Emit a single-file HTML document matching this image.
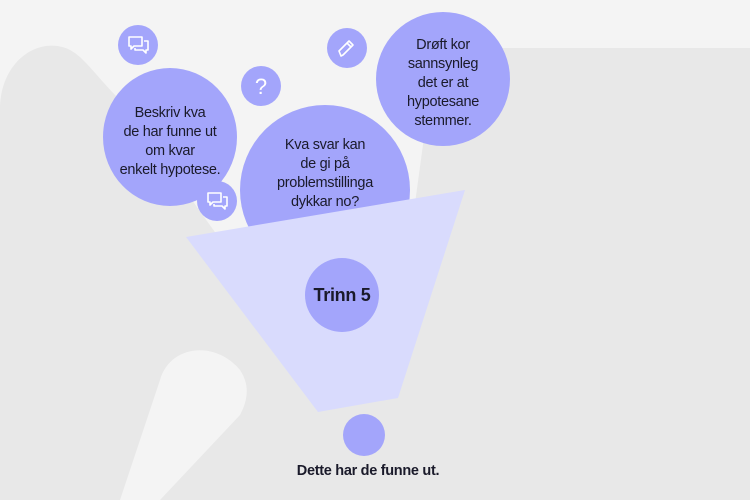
<!DOCTYPE html>
<html><head><meta charset="utf-8"><style>
body{margin:0;width:750px;height:500px;overflow:hidden;background:#f4f4f4;font-family:"Liberation Sans",sans-serif}
svg{position:absolute;left:0;top:0}
.t{position:absolute;text-align:center;font-size:14.5px;line-height:19px;color:#1a1a2a;letter-spacing:-0.3px}
</style></head><body>
<svg width="750" height="500" viewBox="0 0 750 500">
<path d="M0,500 L0,110 C0,60 40,35 70,50 C85,58 95,75 120,100 L235,260 L410,240 L425,130 C432,90 440,48 470,48 L750,48 L750,500 Z" fill="#e8e8e8"/>
<path d="M120,500 L160,380 C170,345 215,340 240,370 C250,385 248,400 240,415 L160,500 Z" fill="#f4f4f4"/>
<g fill="#a3a5fb">
<circle cx="138" cy="45" r="20"/>
<circle cx="347" cy="48" r="20"/>
<circle cx="261" cy="86" r="20"/>
<ellipse cx="170" cy="137" rx="67" ry="69"/>
<circle cx="217" cy="201" r="20"/>
<circle cx="325" cy="190" r="85"/>
<circle cx="443" cy="79" r="67"/>
</g>
<polygon points="186,237 465,190 398,398 318,412" fill="#d9dbfd"/>
<circle cx="342" cy="295" r="37" fill="#a3a5fb"/>
<circle cx="364" cy="435" r="21" fill="#a3a5fb"/>
<g fill="none" stroke="#fff" stroke-width="1.6" stroke-linejoin="round">
<path d="M129,37 h13 v9 h-8 l-3,3 v-3 h-2 z"/>
<path d="M144,41 h4 v9 h-2 v3 l-3,-3 h-8 v-2"/>
<path d="M208,193 h13 v9 h-8 l-3,3 v-3 h-2 z"/>
<path d="M223,197 h4 v9 h-2 v3 l-3,-3 h-8 v-2"/>
<path d="M341,56 l-2,-5 l10,-10 l4,4 l-10,10 z M347,43 l4,4"/>
</g>
<text x="261" y="94" fill="#fff" font-family="Liberation Sans" font-size="22" text-anchor="middle">?</text>
</svg>
<div class="t" style="left:110px;top:104px;width:120px">Beskriv kva<br>de har funne ut<br>om kvar<br>enkelt hypotese.</div>
<div class="t" style="left:265px;top:136px;width:120px">Kva svar kan<br>de gi på<br>problemstillinga<br>dykkar no?</div>
<div class="t" style="left:383px;top:36px;width:120px">Drøft kor<br>sannsynleg<br>det er at<br>hypotesane<br>stemmer.</div>
<div class="t" style="left:292px;top:284px;width:100px;font-weight:bold;font-size:18px;line-height:22px">Trinn 5</div>
<div class="t" style="left:268px;top:462px;width:200px;font-weight:bold;font-size:14.5px">Dette har de funne ut.</div>
</body></html>
